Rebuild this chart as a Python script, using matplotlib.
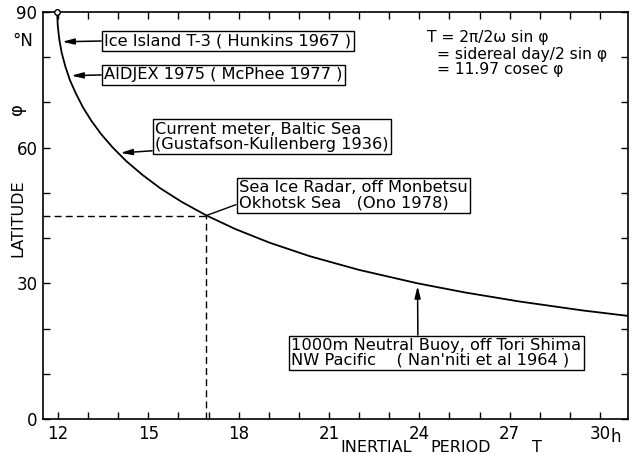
import matplotlib.pyplot as plt

# inertial period curve, T = 11.97 cosec(lat)
latitude = [90, 87, 84, 81, 78, 75, 72, 69, 66, 63, 60, 57, 54, 51, 48, 45,
            42, 39, 36, 33, 30, 28, 26, 24, 22.8]
period = [11.97, 11.99, 12.04, 12.12, 12.24, 12.39, 12.59, 12.82, 13.10, 13.43,
          13.82, 14.27, 14.80, 15.40, 16.11, 16.93, 17.89, 19.02, 20.36, 21.98,
          23.94, 25.50, 27.31, 29.43, 30.93]

# observations marked on the curve
obs_labels = ['Ice Island T-3 ( Hunkins 1967 )',
              'AIDJEX 1975 ( McPhee 1977 )',
              'Current meter, Baltic Sea\n(Gustafson-Kullenberg 1936)',
              'Sea Ice Radar, off Monbetsu\nOkhotsk Sea   (Ono 1978)',
              '1000m Neutral Buoy, off Tori Shima\nNW Pacific    ( Nan\'niti et al 1964 )']
obs_lat = [83.4, 75.9, 58.8, 45.0, 30.0]
obs_period = [12.05, 12.35, 13.98, 16.93, 23.94]

xticks = [12, 15, 18, 21, 24, 27, 30]
yticks = [0, 30, 60, 90]

plt.rcParams['font.family'] = 'DejaVu Sans'
fig = plt.figure(figsize=(6.35, 4.54), dpi=100)
ax = fig.add_axes([43/635, 1-419/454, 585/635, 407/454])

ax.plot(period, latitude, color='black', lw=1.3)
ax.plot(period[0], latitude[0], 'o', ms=4, mfc='white', mec='black', mew=1, clip_on=False, zorder=5)

# dashed guide to the Okhotsk point
ax.plot([11.5, obs_period[3]], [obs_lat[3], obs_lat[3]], '--', color='black', lw=1, dashes=(5, 3))
ax.plot([obs_period[3], obs_period[3]], [0, obs_lat[3]], '--', color='black', lw=1, dashes=(5, 3))

ax.set_xlim(11.5, 30.93)
ax.set_ylim(0, 90)
ax.set_xticks(xticks)
ax.set_yticks(yticks)
ax.set_xticks(range(12, 31), minor=True)
ax.set_yticks(range(0, 91, 10), minor=True)
ax.tick_params(which='both', direction='in', top=True, right=True, length=5, width=1,
               labelsize=12, pad=4)
for s in ax.spines.values():
    s.set_linewidth(1.2)

box = dict(boxstyle='square,pad=0.15', fc='white', ec='black', lw=1)
head = dict(arrowstyle='-|>,head_length=0.6,head_width=0.15', color='black', lw=1.1,
            shrinkA=0, shrinkB=2)
text_pos = [(13.53, 83.6), (13.53, 76.1), (15.22, 62.4), (18.01, 49.5), (19.74, 14.6)]
rel = [(0, 0.5), (0, 0.5), (0, 0.04), (0, 0.22), (0.437, 1)]
for i in range(len(obs_labels)):
    props = dict(head, relpos=rel[i])
    if i == 3:
        props = dict(arrowstyle='-', color='black', lw=1, shrinkA=0, shrinkB=0, relpos=rel[i])
    ax.annotate(obs_labels[i], xy=(obs_period[i], obs_lat[i]), xytext=text_pos[i],
                ha='left', va='center', fontsize=11.7, linespacing=1.0,
                bbox=box, arrowprops=props)

ax.text(24.24, 84.3, 'T = 2π/2ω sin φ', fontsize=11.2, va='center')
ax.text(24.6, 80.6, '= sidereal day/2 sin φ', fontsize=11.2, va='center')
ax.text(24.6, 77.3, '= 11.97 cosec φ', fontsize=11.2, va='center')

fig.text(18/635, 1-218/454, 'LATITUDE', rotation=90, ha='center', va='center', fontsize=11.5)
fig.text(17/635, 1-109/454, 'φ', rotation=90, ha='center', va='center', fontsize=13)
fig.text(23/635, 1-41/454, '°N', ha='center', va='center', fontsize=12)
fig.text(376/635, 1-447/454, 'INERTIAL', ha='center', va='center', fontsize=11.5)
fig.text(461/635, 1-447/454, 'PERIOD', ha='center', va='center', fontsize=11.5)
fig.text(537/635, 1-447/454, 'T', ha='center', va='center', fontsize=11.5)
fig.text(616/635, 1-437/454, 'h', ha='center', va='center', fontsize=12)

fig.savefig('out.png', dpi=100)
